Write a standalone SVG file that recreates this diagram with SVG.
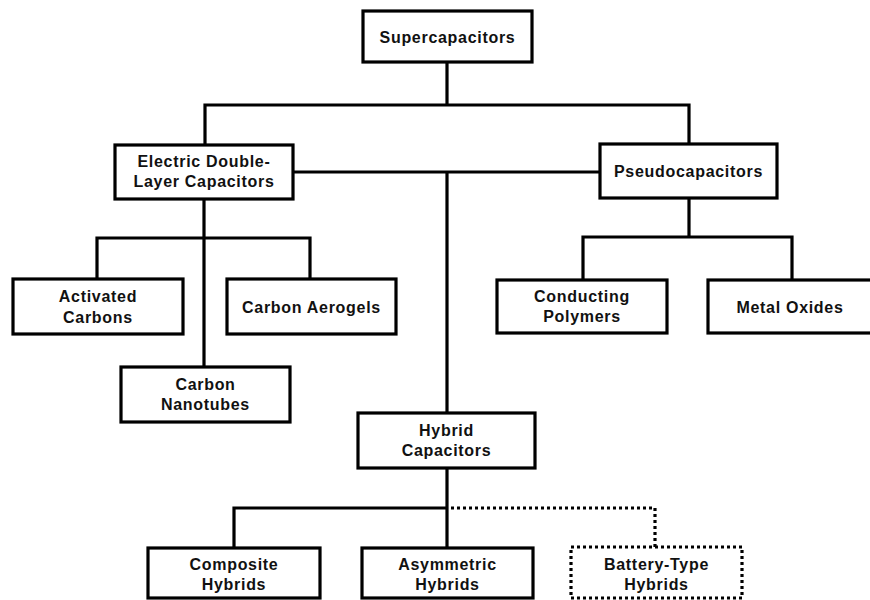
<svg xmlns="http://www.w3.org/2000/svg" width="870" height="600" viewBox="0 0 870 600">
<style>
.box{fill:#fff;stroke:#000;stroke-width:3.2}
.dot{fill:#fff;stroke:#000;stroke-width:3.2;stroke-dasharray:3 3}
.ln{fill:none;stroke:#000;stroke-width:3.2}
.dl{fill:none;stroke:#000;stroke-width:3.2;stroke-dasharray:3 3}
text{font-family:"Liberation Sans",Arial,sans-serif;font-weight:bold;font-size:16px;letter-spacing:0.7px;text-anchor:middle;fill:#111}
</style>
<rect width="870" height="600" fill="#fff"/>
<g id="connectors">
<path class="ln" d="M447,62 V105 M205,145 V105 H689 V144"/>
<path class="ln" d="M293,172 H600 M447,172 V413"/>
<path class="ln" d="M204,199 V367 M97,279 V238 H310 V279"/>
<path class="ln" d="M689,198 V237 M583,280 V237 H792 V280"/>
<path class="ln" d="M447,468 V548 M447,508 H234 V548"/>
<path class="dl" d="M451,508 H655 V547"/>
</g>
<g id="supercapacitors"><rect class="box" x="363" y="11" width="169" height="51"/><text x="447.5" y="43">Supercapacitors</text></g>
<g id="edlc"><rect class="box" x="115" y="145" width="178" height="54"/><text x="204" y="167">Electric Double-</text><text x="204" y="187">Layer Capacitors</text></g>
<g id="pseudocapacitors"><rect class="box" x="600" y="144" width="177" height="54"/><text x="688.5" y="177">Pseudocapacitors</text></g>
<g id="activated-carbons"><rect class="box" x="13" y="279" width="170" height="55"/><text x="98" y="302">Activated</text><text x="98" y="323">Carbons</text></g>
<g id="carbon-aerogels"><rect class="box" x="227" y="279" width="169" height="55"/><text x="311.5" y="313">Carbon Aerogels</text></g>
<g id="carbon-nanotubes"><rect class="box" x="121" y="367" width="169" height="55"/><text x="205.5" y="390">Carbon</text><text x="205.5" y="410">Nanotubes</text></g>
<g id="conducting-polymers"><rect class="box" x="497" y="280" width="170" height="53"/><text x="582" y="302">Conducting</text><text x="582" y="322">Polymers</text></g>
<g id="metal-oxides"><rect class="box" x="708" y="280" width="166" height="53"/><text x="790" y="313">Metal Oxides</text></g>
<g id="hybrid-capacitors"><rect class="box" x="358" y="413" width="177" height="55"/><text x="446.5" y="436">Hybrid</text><text x="446.5" y="456">Capacitors</text></g>
<g id="composite-hybrids"><rect class="box" x="148" y="548" width="172" height="50"/><text x="234" y="570">Composite</text><text x="234" y="590">Hybrids</text></g>
<g id="asymmetric-hybrids"><rect class="box" x="362" y="548" width="171" height="50"/><text x="447.5" y="570">Asymmetric</text><text x="447.5" y="590">Hybrids</text></g>
<g id="battery-type-hybrids"><rect class="dot" x="571" y="547" width="171" height="51"/><text x="656.5" y="570">Battery-Type</text><text x="656.5" y="590">Hybrids</text></g>
</svg>
